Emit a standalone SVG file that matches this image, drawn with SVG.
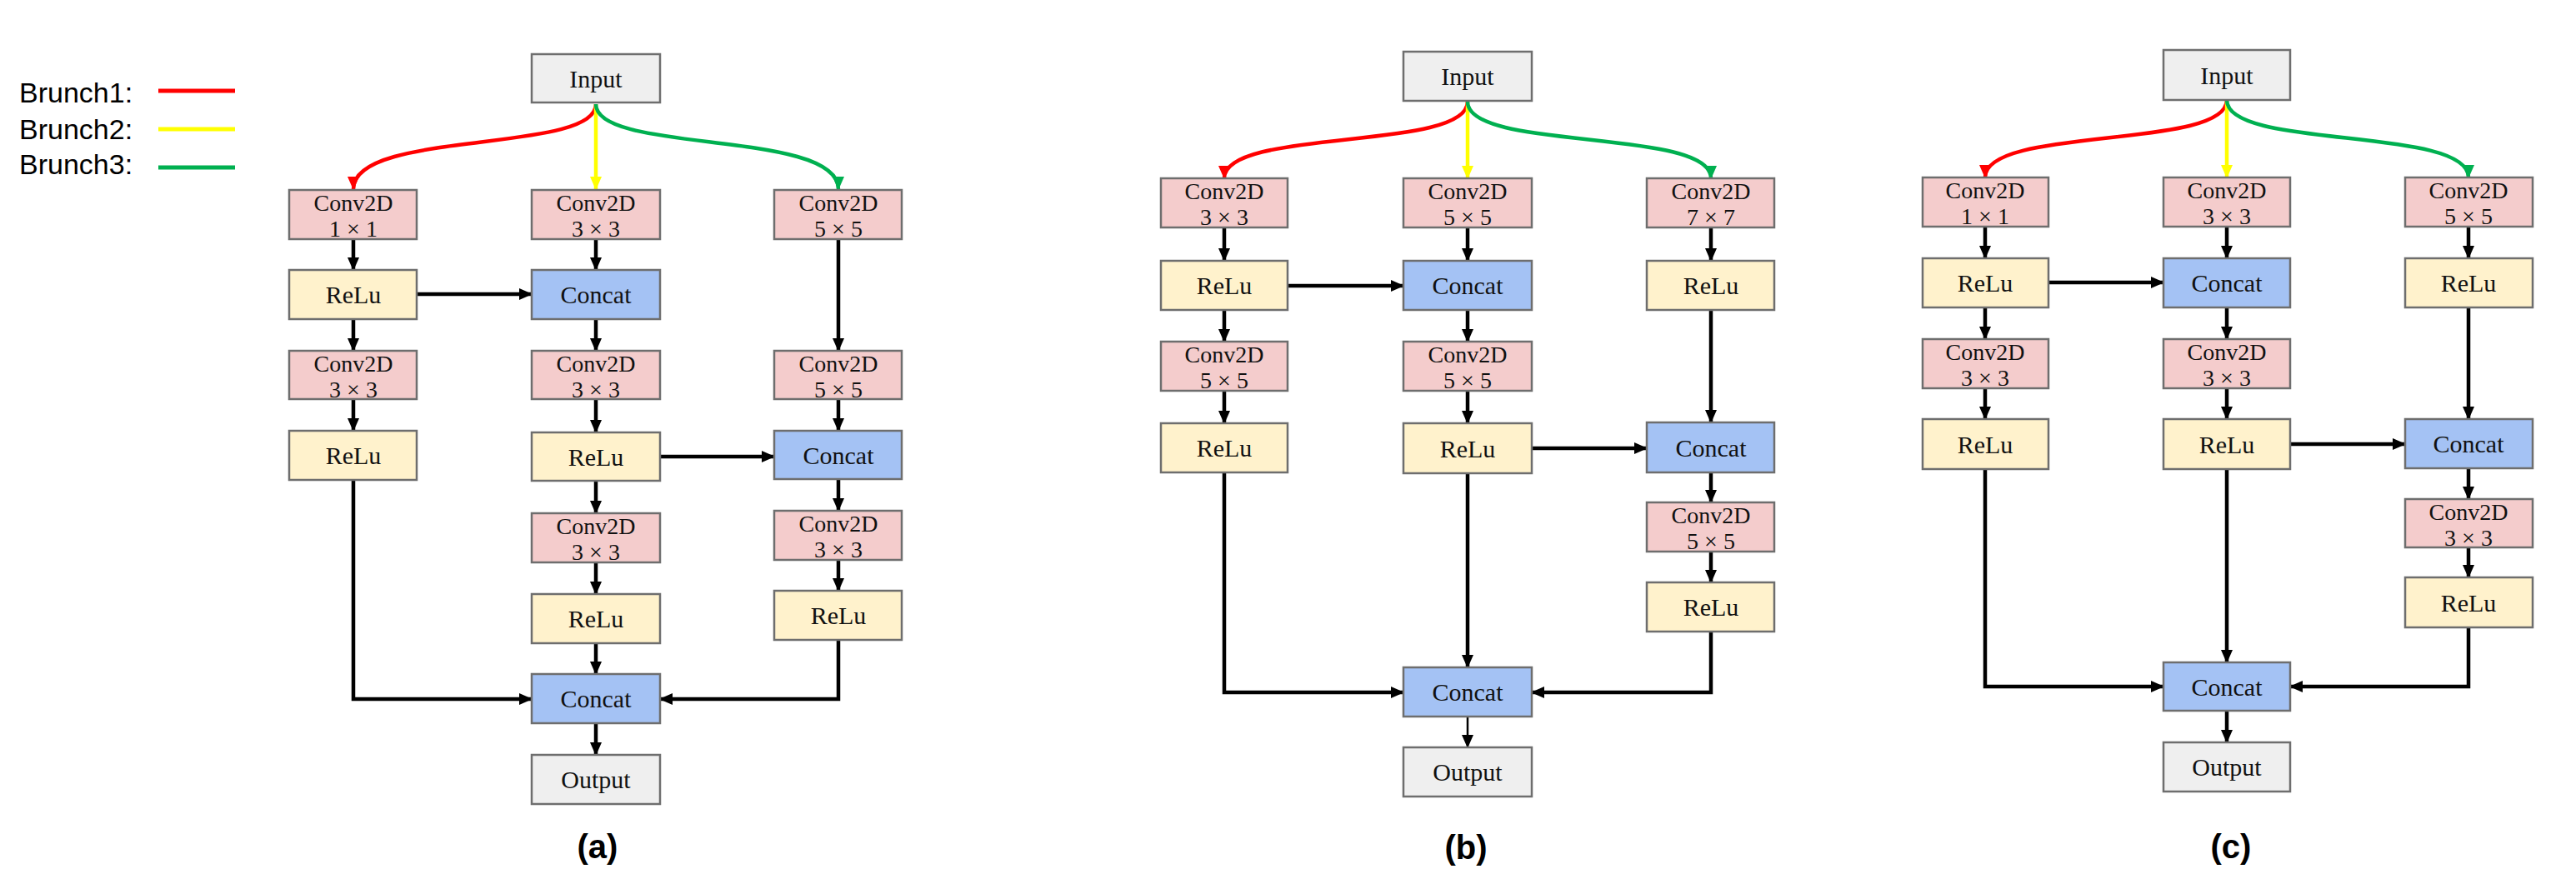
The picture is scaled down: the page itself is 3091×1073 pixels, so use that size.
<svg xmlns="http://www.w3.org/2000/svg" width="3091" height="1073" viewBox="0 0 3091 1073">
<defs>
<marker id="ak" markerUnits="userSpaceOnUse" markerWidth="16" markerHeight="14" refX="15" refY="7" orient="auto"><path d="M0,0 L16,7 L0,14 z" fill="#000"/></marker>
<marker id="ar" markerUnits="userSpaceOnUse" markerWidth="16" markerHeight="14" refX="15" refY="7" orient="auto"><path d="M0,0 L16,7 L0,14 z" fill="#ff0000"/></marker>
<marker id="ay" markerUnits="userSpaceOnUse" markerWidth="16" markerHeight="14" refX="15" refY="7" orient="auto"><path d="M0,0 L16,7 L0,14 z" fill="#ffff00"/></marker>
<marker id="ag" markerUnits="userSpaceOnUse" markerWidth="16" markerHeight="14" refX="15" refY="7" orient="auto"><path d="M0,0 L16,7 L0,14 z" fill="#00b050"/></marker>
<style>
.b{stroke:#6e6e6e;stroke-width:2.5}
.io{fill:#efefef}
.cv{fill:#f4cccc}
.re{fill:#fff2cc}
.cc{fill:#a4c2f4}
.t{font-family:"Liberation Serif","Times New Roman",serif;font-size:30px;fill:#111;text-anchor:middle}
.t2{font-family:"Liberation Serif","Times New Roman",serif;font-size:28px;fill:#111;text-anchor:middle}
.lg{font-family:"Liberation Sans",Arial,sans-serif;font-size:34px;fill:#000}
.cap{font-family:"Liberation Sans",Arial,sans-serif;font-size:40px;font-weight:bold;fill:#000;text-anchor:middle}
.k{stroke:#000;stroke-width:4.5;fill:none;marker-end:url(#ak)}
.kt{stroke:#000;stroke-width:2.5;fill:none;marker-end:url(#ak)}
.r{stroke:#ff0000;stroke-width:4.5;fill:none;marker-end:url(#ar)}
.y{stroke:#ffff00;stroke-width:4.5;fill:none;marker-end:url(#ay)}
.g{stroke:#00b050;stroke-width:4.5;fill:none;marker-end:url(#ag)}
</style>
</defs>
<rect width="3091" height="1073" fill="#fff"/>

<g id="legend">
<text class="lg" x="23" y="123">Brunch1:</text>
<text class="lg" x="23" y="167">Brunch2:</text>
<text class="lg" x="23" y="209">Brunch3:</text>
<line x1="190" y1="109" x2="282" y2="109" stroke="#ff0000" stroke-width="5"/>
<line x1="190" y1="155" x2="282" y2="155" stroke="#ffff00" stroke-width="5"/>
<line x1="190" y1="201" x2="282" y2="201" stroke="#00b050" stroke-width="5"/>
</g>

<g id="connectors">
<!-- panel a -->
<path class="r" d="M715,125 C715,185 424,155 424,227"/>
<path class="y" d="M715,125 L715,227"/>
<path class="g" d="M715,125 C715,185 1006,155 1006,227"/>
<path class="k" d="M424,287 L424,324"/>
<path class="k" d="M715,287 L715,324"/>
<path class="k" d="M1006,287 L1006,421"/>
<path class="k" d="M500,353 L638,353"/>
<path class="k" d="M424,383 L424,421"/>
<path class="k" d="M715,383 L715,421"/>
<path class="k" d="M424,479 L424,517"/>
<path class="k" d="M715,479 L715,519"/>
<path class="k" d="M1006,479 L1006,517"/>
<path class="k" d="M792,548 L929,548"/>
<path class="k" d="M715,577 L715,616"/>
<path class="k" d="M1006,575 L1006,613"/>
<path class="k" d="M715,675 L715,713"/>
<path class="k" d="M1006,672 L1006,709"/>
<path class="k" d="M715,772 L715,809"/>
<path class="k" d="M424,576 L424,839 L638,839"/>
<path class="k" d="M1006,768 L1006,839 L792,839"/>
<path class="k" d="M715,868 L715,906"/>
<!-- panel b -->
<path class="r" d="M1761,122 C1761,182 1469,153 1469,214"/>
<path class="y" d="M1761,122 L1761,214"/>
<path class="g" d="M1761,122 C1761,182 2053,153 2053,214"/>
<path class="k" d="M1469,273 L1469,313"/>
<path class="k" d="M1761,273 L1761,313"/>
<path class="k" d="M2053,273 L2053,313"/>
<path class="k" d="M1545,343 L1684,343"/>
<path class="k" d="M1469,372 L1469,410"/>
<path class="k" d="M1761,372 L1761,410"/>
<path class="k" d="M2053,372 L2053,507"/>
<path class="k" d="M1469,469 L1469,508"/>
<path class="k" d="M1761,469 L1761,508"/>
<path class="k" d="M1838,538 L1976,538"/>
<path class="k" d="M2053,567 L2053,603"/>
<path class="k" d="M2053,662 L2053,699"/>
<path class="k" d="M1761,568 L1761,801"/>
<path class="k" d="M1469,567 L1469,831 L1684,831"/>
<path class="k" d="M2053,758 L2053,831 L1838,831"/>
<path class="kt" d="M1761,860 L1761,897"/>
<!-- panel c -->
<path class="r" d="M2672,120 C2672,180 2382,151 2382,213"/>
<path class="y" d="M2672,120 L2672,213"/>
<path class="g" d="M2672,120 C2672,180 2962,151 2962,213"/>
<path class="k" d="M2382,272 L2382,310"/>
<path class="k" d="M2672,272 L2672,310"/>
<path class="k" d="M2962,272 L2962,310"/>
<path class="k" d="M2458,339 L2596,339"/>
<path class="k" d="M2382,369 L2382,407"/>
<path class="k" d="M2672,369 L2672,407"/>
<path class="k" d="M2962,369 L2962,503"/>
<path class="k" d="M2382,466 L2382,503"/>
<path class="k" d="M2672,466 L2672,503"/>
<path class="k" d="M2748,533 L2886,533"/>
<path class="k" d="M2962,562 L2962,599"/>
<path class="k" d="M2962,657 L2962,693"/>
<path class="k" d="M2672,563 L2672,795"/>
<path class="k" d="M2382,563 L2382,824 L2596,824"/>
<path class="k" d="M2962,753 L2962,824 L2748,824"/>
<path class="k" d="M2672,853 L2672,891"/>
</g>

<!-- panel a nodes -->
<g id="a_input"><rect class="b io" x="638" y="65" width="154" height="58"/><text class="t" x="715" y="105">Input</text></g>
<g id="a_conv1"><rect class="b cv" x="347" y="228" width="153" height="59"/><text class="t2" x="424" y="253">Conv2D</text><text class="t2" x="424" y="284">1 × 1</text></g>
<g id="a_conv2"><rect class="b cv" x="638" y="228" width="154" height="59"/><text class="t2" x="715" y="253">Conv2D</text><text class="t2" x="715" y="284">3 × 3</text></g>
<g id="a_conv3"><rect class="b cv" x="929" y="228" width="153" height="59"/><text class="t2" x="1006" y="253">Conv2D</text><text class="t2" x="1006" y="284">5 × 5</text></g>
<g id="a_relu1"><rect class="b re" x="347" y="324" width="153" height="59"/><text class="t" x="424" y="364">ReLu</text></g>
<g id="a_concat1"><rect class="b cc" x="638" y="324" width="154" height="59"/><text class="t" x="715" y="364">Concat</text></g>
<g id="a_conv4"><rect class="b cv" x="347" y="421" width="153" height="58"/><text class="t2" x="424" y="446">Conv2D</text><text class="t2" x="424" y="477">3 × 3</text></g>
<g id="a_conv5"><rect class="b cv" x="638" y="421" width="154" height="58"/><text class="t2" x="715" y="446">Conv2D</text><text class="t2" x="715" y="477">3 × 3</text></g>
<g id="a_conv6"><rect class="b cv" x="929" y="421" width="153" height="58"/><text class="t2" x="1006" y="446">Conv2D</text><text class="t2" x="1006" y="477">5 × 5</text></g>
<g id="a_relu2"><rect class="b re" x="347" y="517" width="153" height="59"/><text class="t" x="424" y="557">ReLu</text></g>
<g id="a_relu3"><rect class="b re" x="638" y="519" width="154" height="58"/><text class="t" x="715" y="559">ReLu</text></g>
<g id="a_concat2"><rect class="b cc" x="929" y="517" width="153" height="58"/><text class="t" x="1006" y="557">Concat</text></g>
<g id="a_conv7"><rect class="b cv" x="638" y="616" width="154" height="59"/><text class="t2" x="715" y="641">Conv2D</text><text class="t2" x="715" y="672">3 × 3</text></g>
<g id="a_conv8"><rect class="b cv" x="929" y="613" width="153" height="59"/><text class="t2" x="1006" y="638">Conv2D</text><text class="t2" x="1006" y="669">3 × 3</text></g>
<g id="a_relu4"><rect class="b re" x="638" y="713" width="154" height="59"/><text class="t" x="715" y="753">ReLu</text></g>
<g id="a_relu5"><rect class="b re" x="929" y="709" width="153" height="59"/><text class="t" x="1006" y="749">ReLu</text></g>
<g id="a_concat3"><rect class="b cc" x="638" y="809" width="154" height="59"/><text class="t" x="715" y="849">Concat</text></g>
<g id="a_output"><rect class="b io" x="638" y="906" width="154" height="59"/><text class="t" x="715" y="946">Output</text></g>
<text class="cap" x="717" y="1030">(a)</text>

<!-- panel b nodes -->
<g id="b_input"><rect class="b io" x="1684" y="62" width="154" height="59"/><text class="t" x="1761" y="102">Input</text></g>
<g id="b_conv1"><rect class="b cv" x="1393" y="214" width="152" height="59"/><text class="t2" x="1469" y="239">Conv2D</text><text class="t2" x="1469" y="270">3 × 3</text></g>
<g id="b_conv2"><rect class="b cv" x="1684" y="214" width="154" height="59"/><text class="t2" x="1761" y="239">Conv2D</text><text class="t2" x="1761" y="270">5 × 5</text></g>
<g id="b_conv3"><rect class="b cv" x="1976" y="214" width="153" height="59"/><text class="t2" x="2053" y="239">Conv2D</text><text class="t2" x="2053" y="270">7 × 7</text></g>
<g id="b_relu1"><rect class="b re" x="1393" y="313" width="152" height="59"/><text class="t" x="1469" y="353">ReLu</text></g>
<g id="b_concat1"><rect class="b cc" x="1684" y="313" width="154" height="59"/><text class="t" x="1761" y="353">Concat</text></g>
<g id="b_relu2"><rect class="b re" x="1976" y="313" width="153" height="59"/><text class="t" x="2053" y="353">ReLu</text></g>
<g id="b_conv4"><rect class="b cv" x="1393" y="410" width="152" height="59"/><text class="t2" x="1469" y="435">Conv2D</text><text class="t2" x="1469" y="466">5 × 5</text></g>
<g id="b_conv5"><rect class="b cv" x="1684" y="410" width="154" height="59"/><text class="t2" x="1761" y="435">Conv2D</text><text class="t2" x="1761" y="466">5 × 5</text></g>
<g id="b_relu3"><rect class="b re" x="1393" y="508" width="152" height="59"/><text class="t" x="1469" y="548">ReLu</text></g>
<g id="b_relu4"><rect class="b re" x="1684" y="508" width="154" height="60"/><text class="t" x="1761" y="549">ReLu</text></g>
<g id="b_concat2"><rect class="b cc" x="1976" y="507" width="153" height="60"/><text class="t" x="2053" y="548">Concat</text></g>
<g id="b_conv6"><rect class="b cv" x="1976" y="603" width="153" height="59"/><text class="t2" x="2053" y="628">Conv2D</text><text class="t2" x="2053" y="659">5 × 5</text></g>
<g id="b_relu5"><rect class="b re" x="1976" y="699" width="153" height="59"/><text class="t" x="2053" y="739">ReLu</text></g>
<g id="b_concat3"><rect class="b cc" x="1684" y="801" width="154" height="59"/><text class="t" x="1761" y="841">Concat</text></g>
<g id="b_output"><rect class="b io" x="1684" y="897" width="154" height="59"/><text class="t" x="1761" y="937">Output</text></g>
<text class="cap" x="1759" y="1031">(b)</text>

<!-- panel c nodes -->
<g id="c_input"><rect class="b io" x="2596" y="60" width="152" height="60"/><text class="t" x="2672" y="101">Input</text></g>
<g id="c_conv1"><rect class="b cv" x="2307" y="213" width="151" height="59"/><text class="t2" x="2382" y="238">Conv2D</text><text class="t2" x="2382" y="269">1 × 1</text></g>
<g id="c_conv2"><rect class="b cv" x="2596" y="213" width="152" height="59"/><text class="t2" x="2672" y="238">Conv2D</text><text class="t2" x="2672" y="269">3 × 3</text></g>
<g id="c_conv3"><rect class="b cv" x="2886" y="213" width="153" height="59"/><text class="t2" x="2962" y="238">Conv2D</text><text class="t2" x="2962" y="269">5 × 5</text></g>
<g id="c_relu1"><rect class="b re" x="2307" y="310" width="151" height="59"/><text class="t" x="2382" y="350">ReLu</text></g>
<g id="c_concat1"><rect class="b cc" x="2596" y="310" width="152" height="59"/><text class="t" x="2672" y="350">Concat</text></g>
<g id="c_relu2"><rect class="b re" x="2886" y="310" width="153" height="59"/><text class="t" x="2962" y="350">ReLu</text></g>
<g id="c_conv4"><rect class="b cv" x="2307" y="407" width="151" height="59"/><text class="t2" x="2382" y="432">Conv2D</text><text class="t2" x="2382" y="463">3 × 3</text></g>
<g id="c_conv5"><rect class="b cv" x="2596" y="407" width="152" height="59"/><text class="t2" x="2672" y="432">Conv2D</text><text class="t2" x="2672" y="463">3 × 3</text></g>
<g id="c_relu3"><rect class="b re" x="2307" y="503" width="151" height="60"/><text class="t" x="2382" y="544">ReLu</text></g>
<g id="c_relu4"><rect class="b re" x="2596" y="503" width="152" height="60"/><text class="t" x="2672" y="544">ReLu</text></g>
<g id="c_concat2"><rect class="b cc" x="2886" y="503" width="153" height="59"/><text class="t" x="2962" y="543">Concat</text></g>
<g id="c_conv6"><rect class="b cv" x="2886" y="599" width="153" height="58"/><text class="t2" x="2962" y="624">Conv2D</text><text class="t2" x="2962" y="655">3 × 3</text></g>
<g id="c_relu5"><rect class="b re" x="2886" y="693" width="153" height="60"/><text class="t" x="2962" y="734">ReLu</text></g>
<g id="c_concat3"><rect class="b cc" x="2596" y="795" width="152" height="58"/><text class="t" x="2672" y="835">Concat</text></g>
<g id="c_output"><rect class="b io" x="2596" y="891" width="152" height="59"/><text class="t" x="2672" y="931">Output</text></g>
<text class="cap" x="2677" y="1030">(c)</text>
</svg>
